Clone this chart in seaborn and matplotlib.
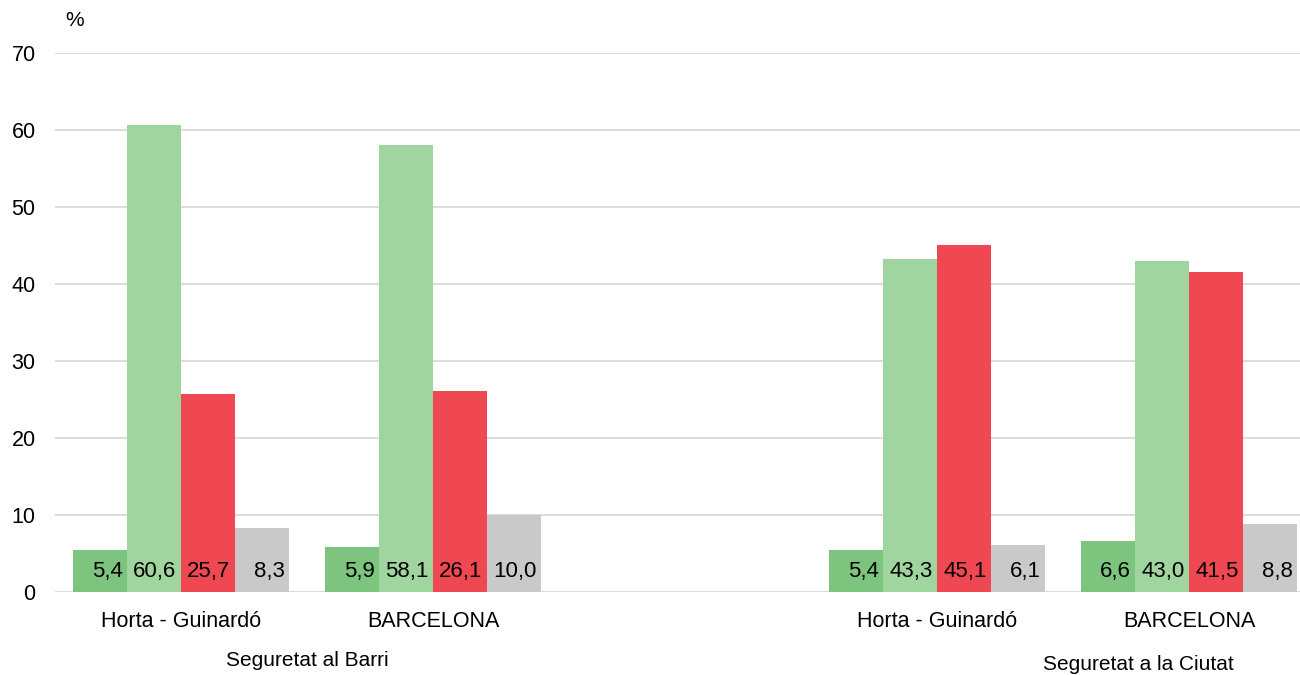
import numpy as np
import pandas as pd
import matplotlib
matplotlib.use("Agg")
import matplotlib.pyplot as plt
import seaborn as sns

# ---- data ----
cat_keys = ["HG_barri", "BCN_barri", "gap", "HG_ciutat", "BCN_ciutat"]
cat_labels = ["Horta - Guinardó", "BARCELONA", "", "Horta - Guinardó", "BARCELONA"]
series = ["S1", "S2", "S3", "S4"]
values_hg_barri = [5.4, 60.6, 25.7, 8.3]
values_bcn_barri = [5.9, 58.1, 26.1, 10.0]
values_hg_ciutat = [5.4, 43.3, 45.1, 6.1]
values_bcn_ciutat = [6.6, 43.0, 41.5, 8.8]
group_titles = ["Seguretat al Barri", "Seguretat a la Ciutat"]
colors = ["#7DC47F", "#A0D5A0", "#EF4852", "#C9C9C9"]

rows = []
for key, vals in zip(["HG_barri", "BCN_barri", "HG_ciutat", "BCN_ciutat"],
                     [values_hg_barri, values_bcn_barri, values_hg_ciutat, values_bcn_ciutat]):
    for s, v in zip(series, vals):
        rows.append({"cat": key, "series": s, "val": v})
df = pd.DataFrame(rows)

sns.set_style("white")
plt.rcParams["font.family"] = ["Liberation Sans", "DejaVu Sans"]
plt.rcParams["text.color"] = "black"
plt.rcParams["xtick.color"] = "black"
plt.rcParams["ytick.color"] = "black"

fig = plt.figure(figsize=(13, 6.75), dpi=100)
ax = fig.add_axes([55 / 1300, 83 / 675, 1245 / 1300, (592 - 53) / 675])

sns.barplot(data=df, x="cat", y="val", hue="series", order=cat_keys,
            hue_order=series, palette=colors, width=0.857, dodge=True,
            saturation=1, errorbar=None, legend=False, ax=ax, linewidth=0)

ax.set_ylim(0, 70)
ax.set_xlim(-0.5, -0.5 + 1245 / 252)
ax.set_yticks(np.arange(0, 71, 10))
ax.yaxis.grid(True, color="#D9D9D9", linewidth=1.3)
ax.set_axisbelow(True)
for sp in ax.spines.values():
    sp.set_visible(False)
ax.tick_params(axis="y", length=0, pad=14, labelsize=15.5, labelcolor="black")
ax.tick_params(axis="x", length=0, pad=14, labelsize=15.5, labelcolor="black")
ax.set_xticks(range(len(cat_keys)))
ax.set_xticklabels(cat_labels)
ax.set_xlabel("")
ax.set_ylabel("")

# value labels inside bars
for cont in ax.containers:
    for bar in cont:
        h = bar.get_height()
        if np.isnan(h):
            continue
        ax.text(bar.get_x() + bar.get_width() - 0.018, 2.7,
                f"{h:.1f}".replace(".", ","), ha="right", va="center",
                fontsize=16, color="black")

fig.text(75 / 1300, 1 - 20 / 675, "%", fontsize=15, ha="center", va="center")
fig.text(307 / 1300, 1 - 660 / 675, group_titles[0], fontsize=15, ha="center", va="center")
fig.text(1138 / 1300, 1 - 664 / 675, group_titles[1], fontsize=15, ha="center", va="center")

fig.savefig("out.png", dpi=100)
